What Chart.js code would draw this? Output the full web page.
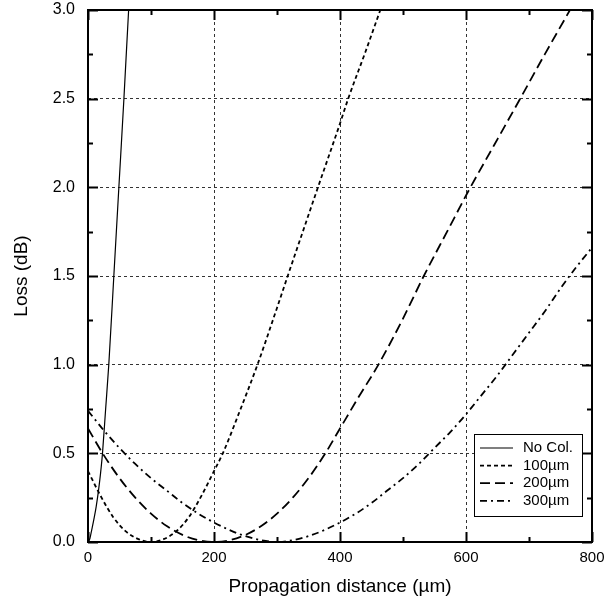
<!DOCTYPE html>
<html>
<head>
<meta charset="utf-8">
<script src="https://cdn.jsdelivr.net/npm/chart.js@4.4.0/dist/chart.umd.min.js"></script>
<style>
  html, body { margin: 0; padding: 0; background: #fff; }
  #wrap { width: 604px; height: 603px; }
</style>
</head>
<body>
<div id="wrap"><canvas id="c" width="604" height="603"></canvas></div>
<script>
const FONT = "'Liberation Sans', Arial, Helvetica, sans-serif"

const seriesNames = ['No Col.', '100\u00b5m', '200\u00b5m', '300\u00b5m']

// loss (dB) vs propagation distance (um)
const noColX = [0, 3, 6, 10, 13, 17, 20, 23, 28, 33, 41, 49, 57, 64.5, 67]
const noColY = [0, 0.02, 0.07, 0.14, 0.2, 0.3, 0.39, 0.5, 0.75, 1.0, 1.5, 2.0, 2.5, 3.0, 3.15]

const col100X = [0, 20, 40, 60, 80, 100, 120, 140, 160, 180, 200, 214, 240, 269, 300, 317, 340, 365, 400, 413, 440, 464, 480]
const col100Y = [0.40, 0.26, 0.14, 0.06, 0.016, 0, 0.016, 0.06, 0.14, 0.26, 0.40, 0.5, 0.73, 1.0, 1.32, 1.5, 1.74, 2.0, 2.36, 2.5, 2.76, 3.0, 3.16]

const col200X = [0, 25, 50, 75, 100, 125, 150, 175, 200, 225, 250, 275, 300, 325, 350, 375, 400, 430, 461, 500, 533, 570, 607, 645, 686, 725, 765, 790]
const col200Y = [0.64, 0.49, 0.36, 0.25, 0.16, 0.09, 0.04, 0.01, 0, 0.01, 0.04, 0.09, 0.16, 0.25, 0.36, 0.49, 0.64, 0.82, 1.0, 1.26, 1.5, 1.75, 2.0, 2.24, 2.5, 2.75, 3.0, 3.16]

const col300X = [0, 25, 50, 75, 100, 125, 150, 175, 200, 225, 250, 275, 300, 325, 350, 375, 400, 425, 450, 475, 500, 525, 550, 575, 600, 625, 650, 675, 700, 725, 750, 775, 800]
const col300Y = [0.74, 0.63, 0.53, 0.44, 0.36, 0.29, 0.22, 0.16, 0.11, 0.067, 0.033, 0.01, 0, 0.01, 0.033, 0.067, 0.11, 0.16, 0.22, 0.29, 0.36, 0.44, 0.53, 0.62, 0.72, 0.83, 0.94, 1.06, 1.18, 1.30, 1.43, 1.55, 1.66]

const xMinorStep = 100
const yMinorStep = 0.25

const pts = (xs, ys) => xs.map((x, i) => ({ x, y: ys[i] }))

const lineStyles = [
  { width: 1.2, dash: [] },
  { width: 1.8, dash: [4, 3] },
  { width: 1.8, dash: [10, 5] },
  { width: 1.8, dash: [7, 4, 2, 4] },
]

const datasets = [
  pts(noColX, noColY), pts(col100X, col100Y), pts(col200X, col200Y), pts(col300X, col300Y)
].map((data, i) => ({
  label: seriesNames[i],
  data,
  borderColor: '#000',
  borderWidth: lineStyles[i].width,
  borderDash: lineStyles[i].dash,
  pointRadius: 0,
  fill: false,
  cubicInterpolationMode: 'monotone',
}))

// inward tick marks + frame
const frame = {
  id: 'frame',
  afterDatasetsDraw(chart) {
    const { ctx, chartArea: a, scales: { x, y } } = chart
    ctx.save()
    ctx.strokeStyle = '#000'
    ctx.lineWidth = 2
    ctx.beginPath()
    for (let v = x.min; v <= x.max + 1e-6; v += xMinorStep) {
      const px = Math.round(x.getPixelForValue(v)) + 0.5
      const len = (Math.round(v) % 200 === 0) ? 10 : 5
      ctx.moveTo(px, a.bottom); ctx.lineTo(px, a.bottom - len)
      ctx.moveTo(px, a.top);    ctx.lineTo(px, a.top + len)
    }
    for (let v = y.min; v <= y.max + 1e-6; v += yMinorStep) {
      const py = Math.round(y.getPixelForValue(v)) + 0.5
      const len = (Math.abs(v * 2 - Math.round(v * 2)) < 1e-6) ? 10 : 5
      ctx.moveTo(a.left, py);  ctx.lineTo(a.left + len, py)
      ctx.moveTo(a.right, py); ctx.lineTo(a.right - len, py)
    }
    ctx.stroke()
    ctx.strokeRect(a.left, a.top, a.right - a.left, a.bottom - a.top)
    ctx.restore()
  }
}

// boxed legend in the lower right of the plot
const boxLegend = {
  id: 'boxLegend',
  afterDraw(chart) {
    const { ctx, chartArea: a } = chart
    const w = 108, h = 82
    const bx = a.right - 10 - w, by = a.bottom - 26 - h
    ctx.save()
    ctx.fillStyle = '#fff'
    ctx.fillRect(bx, by, w, h)
    ctx.strokeStyle = '#000'
    ctx.lineWidth = 1
    ctx.strokeRect(bx + 0.5, by + 0.5, w, h)
    ctx.font = '15px ' + FONT
    ctx.textBaseline = 'middle'
    ctx.fillStyle = '#000'
    chart.data.datasets.forEach((ds, i) => {
      const cy = by + 14 + i * 17.6
      ctx.beginPath()
      ctx.lineWidth = ds.borderWidth
      ctx.setLineDash(ds.borderDash)
      ctx.moveTo(bx + 6, cy); ctx.lineTo(bx + 39, cy)
      ctx.stroke()
      ctx.setLineDash([])
      ctx.fillText(ds.label, bx + 49, cy)
    })
    ctx.restore()
  }
}

new Chart(document.getElementById('c'), {
  type: 'line',
  data: { datasets },
  plugins: [frame, boxLegend],
  options: {
    responsive: false,
    animation: false,
    devicePixelRatio: 1,
    layout: { padding: 0 },
    plugins: { legend: { display: false }, tooltip: { enabled: false } },
    scales: {
      x: {
        type: 'linear', min: 0, max: 800,
        afterFit: s => { s.height = 61; s.paddingLeft = 0; s.paddingRight = 12 },
        ticks: { stepSize: 200, color: '#000', padding: 7, font: { family: FONT, size: 15 } },
        grid: { color: '#333', lineWidth: 1, drawTicks: false },
        border: { display: false, dash: [3, 3] },
        title: { display: true, text: 'Propagation distance (\u00b5m)', color: '#000',
                 font: { family: FONT, size: 19 }, padding: { top: 0, bottom: 5 } },
      },
      y: {
        type: 'linear', min: 0, max: 3,
        afterFit: s => { s.width = 88; s.paddingTop = 10; s.paddingBottom = 0 },
        ticks: { stepSize: 0.5, color: '#000', padding: 13, font: { family: FONT, size: 16 },
                 callback: v => v.toFixed(1) },
        grid: { color: '#333', lineWidth: 1, drawTicks: false },
        border: { display: false, dash: [3, 3] },
        title: { display: true, text: 'Loss (dB)', color: '#000',
                 font: { family: FONT, size: 19 }, padding: { top: 10, bottom: 0 } },
      },
    },
  },
})
</script>
</body>
</html>
